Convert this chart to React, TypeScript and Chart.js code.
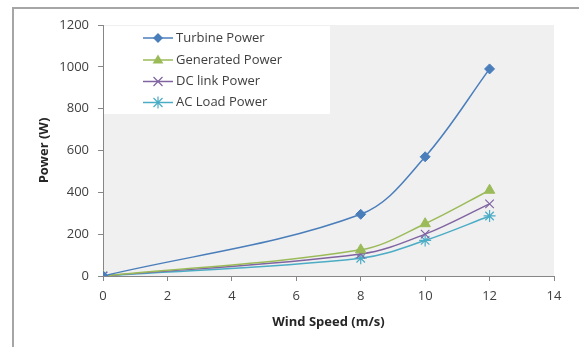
import React, { useEffect, useRef } from "react";
import { Chart, registerables } from "chart.js";

Chart.register(...registerables);

const windSpeed = [0, 8, 10, 12];
const turbinePower = [0, 295, 570, 990];
const generatedPower = [0, 125, 250, 410];
const dcLinkPower = [0, 105, 200, 345];
const acLoadPower = [0, 85, 170, 287];

const xTicks = [0, 2, 4, 6, 8, 10, 12, 14];
const yTicks = [0, 200, 400, 600, 800, 1000, 1200];

const seriesNames = ["Turbine Power", "Generated Power", "DC link Power", "AC Load Power"];
const seriesColors = ["#4A7EBB", "#9BBB59", "#8064A2", "#4BACC6"];
const markerFills = ["#4A7EBB", "#9BBB59", "#8064A2", "#4BACC6"];
const markerStyles = ["rectRot", "triangle", "crossRot", "star"];
const markerRadii = [5, 6, 6, 6];

const FONT = "'Open Sans', sans-serif";

const toPoints = (ys: number[]) => windSpeed.map((x, i) => ({ x, y: ys[i] }));

const bgPlugin = {
  id: "bgPlugin",
  beforeDraw(chart: any) {
    const { ctx, chartArea } = chart;
    ctx.save();
    ctx.fillStyle = "#ffffff";
    ctx.fillRect(0, 0, chart.width, chart.height);
    ctx.fillStyle = "#F0F0F0";
    ctx.fillRect(chartArea.left, chartArea.top, chartArea.right - chartArea.left, chartArea.bottom - chartArea.top);
    ctx.restore();
  },
  afterDraw(chart: any) {
    const { ctx } = chart;
    ctx.save();
    ctx.strokeStyle = "#A6A6A6";
    ctx.lineWidth = 2;
    ctx.beginPath();
    ctx.moveTo(13, chart.height);
    ctx.lineTo(13, 8);
    ctx.lineTo(chart.width, 8);
    ctx.stroke();
    ctx.restore();
  },
};

const legendRowY = [38, 60, 81.5, 102.5];

const legendPlugin = {
  id: "insideLegend",
  beforeDatasetsDraw(chart: any) {
    const { ctx, chartArea } = chart;
    const left = chartArea.left + 1;
    const top = chartArea.top + 1;
    ctx.save();
    ctx.fillStyle = "#ffffff";
    ctx.fillRect(left, top, 226, 88);
    chart.data.datasets.forEach((ds: any, i: number) => {
      const y = legendRowY[i];
      ctx.strokeStyle = ds.borderColor;
      ctx.lineWidth = 1.5;
      ctx.beginPath();
      ctx.moveTo(143, y);
      ctx.lineTo(173, y);
      ctx.stroke();
      ctx.fillStyle = "#404040";
      ctx.font = `13px ${FONT}`;
      ctx.textBaseline = "middle";
      ctx.textAlign = "left";
      ctx.fillText(ds.label, 176, y);
    });
    ctx.restore();
  },
  afterDatasetsDraw(chart: any) {
    const { ctx } = chart;
    chart.data.datasets.forEach((ds: any, i: number) => {
      ctx.save();
      ctx.fillStyle = ds.pointBackgroundColor;
      ctx.strokeStyle = ds.pointBorderColor;
      ctx.lineWidth = 1.2;
      drawMarker(ctx, ds.pointStyle, ds.pointRadius, 158, legendRowY[i]);
      ctx.restore();
    });
  },
};

function drawMarker(ctx: CanvasRenderingContext2D, style: string, r: number, x: number, y: number) {
  ctx.beginPath();
  if (style === "rectRot") {
    ctx.moveTo(x, y - r);
    ctx.lineTo(x + r, y);
    ctx.lineTo(x, y + r);
    ctx.lineTo(x - r, y);
    ctx.closePath();
    ctx.fill();
  } else if (style === "triangle") {
    const h = r * 1.5;
    ctx.moveTo(x, y - h * 0.6);
    ctx.lineTo(x + r * 0.9, y + h * 0.4);
    ctx.lineTo(x - r * 0.9, y + h * 0.4);
    ctx.closePath();
    ctx.fill();
  } else if (style === "crossRot") {
    const d = r * 0.75;
    ctx.moveTo(x - d, y - d);
    ctx.lineTo(x + d, y + d);
    ctx.moveTo(x + d, y - d);
    ctx.lineTo(x - d, y + d);
    ctx.stroke();
  } else {
    const d = r * 0.75;
    ctx.moveTo(x - d, y - d);
    ctx.lineTo(x + d, y + d);
    ctx.moveTo(x + d, y - d);
    ctx.lineTo(x - d, y + d);
    ctx.moveTo(x, y - r);
    ctx.lineTo(x, y + r);
    ctx.stroke();
  }
}

export default function App() {
  const ref = useRef<HTMLCanvasElement | null>(null);

  useEffect(() => {
    if (!ref.current) return;
    const allSeries = [turbinePower, generatedPower, dcLinkPower, acLoadPower];
    const chart = new Chart(ref.current, {
      type: "line",
      data: {
        datasets: allSeries.map((s, i) => ({
          label: seriesNames[i],
          data: toPoints(s),
          borderColor: seriesColors[i],
          backgroundColor: seriesColors[i],
          borderWidth: 1.5,
          tension: 0.35,
          pointStyle: markerStyles[i] as any,
          pointRadius: markerRadii[i],
          pointBackgroundColor: markerFills[i],
          pointBorderColor: seriesColors[i],
          pointBorderWidth: i >= 2 ? 1.2 : 1,
          fill: false,
        })),
      },
      options: {
        responsive: false,
        animation: false,
        layout: { padding: { left: 0, right: 25, top: 25, bottom: 0 } },
        plugins: {
          legend: { display: false },
          tooltip: { enabled: false },
        },
        scales: {
          x: {
            type: "linear",
            min: 0,
            max: 14,
            afterBuildTicks: (scale: any) => {
              scale.ticks = xTicks.map((v) => ({ value: v }));
            },
            afterFit: (scale: any) => {
              scale.height = 71;
            },
            ticks: {
              color: "#404040",
              font: { family: FONT, size: 13 },
              padding: 7,
              maxRotation: 0,
              callback: (v: any) => String(v),
            },
            grid: {
              drawOnChartArea: false,
              drawTicks: true,
              tickLength: 5,
              tickColor: "#868686",
            },
            border: { display: true, color: "#868686", width: 1 },
            title: {
              display: true,
              text: "Wind Speed (m/s)",
              color: "#262626",
              font: { family: FONT, size: 13, weight: "bold" },
              padding: { top: 0, bottom: 17 },
            },
          },
          y: {
            type: "linear",
            min: 0,
            max: 1200,
            afterBuildTicks: (scale: any) => {
              scale.ticks = yTicks.map((v) => ({ value: v }));
            },
            afterFit: (scale: any) => {
              scale.width = 103;
            },
            ticks: {
              color: "#404040",
              font: { family: FONT, size: 13 },
              padding: 9,
              callback: (v: any) => String(v),
            },
            grid: {
              drawOnChartArea: false,
              drawTicks: true,
              tickLength: 5,
              tickColor: "#868686",
            },
            border: { display: true, color: "#868686", width: 1 },
            title: {
              display: true,
              text: "Power (W)",
              color: "#262626",
              font: { family: FONT, size: 13, weight: "bold" },
              padding: { top: 36, bottom: 0 },
            },
          },
        },
      },
      plugins: [bgPlugin, legendPlugin],
    });
    return () => chart.destroy();
  }, []);

  return (
    <div style={{ position: "absolute", left: 0, top: 0, width: 579, height: 347 }}>
      <canvas ref={ref} width={579} height={347} />
    </div>
  );
}
